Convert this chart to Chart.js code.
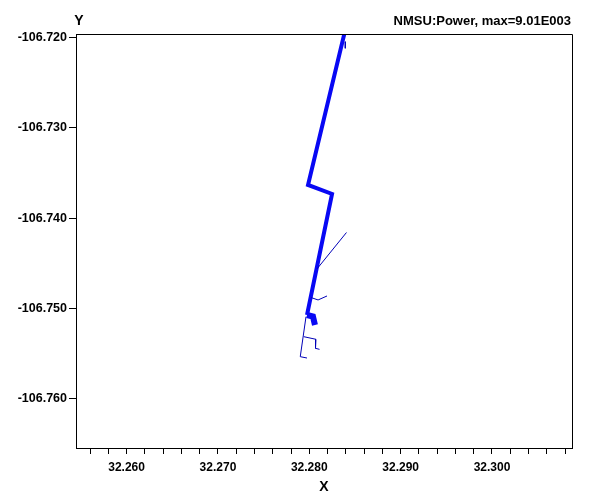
<!DOCTYPE html>
<html>
<head>
<meta charset="utf-8">
<script src="https://cdn.jsdelivr.net/npm/chart.js@4/dist/chart.umd.min.js"></script>
<style>
  html, body { margin: 0; padding: 0; background: #fff; }
  #wrap { width: 593px; height: 504px; }
</style>
</head>
<body>
<div id="wrap"><canvas id="powerChart" width="593" height="504"></canvas></div>
<script>
// assi
const xMin = 32.25446, xMax = 32.30876;
const yMin = -106.76542, yMax = -106.71964;
const xTickValues = [32.256, 32.258, 32.260, 32.262, 32.264, 32.266, 32.268, 32.270, 32.272, 32.274,
    32.276, 32.278, 32.280, 32.282, 32.284, 32.286, 32.288, 32.290, 32.292, 32.294,
    32.296, 32.298, 32.300, 32.302, 32.304, 32.306, 32.308];
const xTickLabels = ['32.260', '32.270', '32.280', '32.290', '32.300'];
const yTickValues = [-106.760, -106.750, -106.740, -106.730, -106.720];

// linea principale (potenza alta)
const mainX = [32.28383, 32.27986, 32.28249, 32.27975];
const mainY = [-106.71964, -106.73633, -106.73733, -106.75071];
// tratto finale spesso
const tailX = [32.27975, 32.28040, 32.28062];
const tailY = [-106.75071, -106.75088, -106.75182];
// rami sottili
const stubX = [32.28394, 32.28394];
const stubY = [-106.72049, -106.72122];
const branch1X = [32.28407, 32.28084];
const branch1Y = [-106.74159, -106.74562];
const branch2X = [32.28019, 32.28096, 32.28194];
const branch2Y = [-106.74878, -106.74905, -106.74861];
const branch3X = [32.27964, 32.27901, 32.27975];
const branch3Y = [-106.75090, -106.75532, -106.75547];
const branch4X = [32.27939, 32.28073, 32.28068, 32.28112];
const branch4Y = [-106.75311, -106.75340, -106.75440, -106.75451];

function pts(xs, ys) {
    return xs.map((x, i) => ({ x: x, y: ys[i] }));
}

function seg(xs, ys, width, color) {
    return {
        data: pts(xs, ys),
        borderColor: color,
        borderWidth: width,
        showLine: true,
        pointRadius: 0,
        borderJoinStyle: 'miter',
        borderCapStyle: 'butt',
        tension: 0,
        fill: false
    };
}

const thick = '#0808f4';
const thin = '#0000b8';
const fontFam = '"Liberation Sans", Arial, sans-serif';

const boxAndText = {
    id: 'boxAndText',
    afterDraw(chart) {
        const ctx = chart.ctx;
        const a = chart.chartArea;
        ctx.save();
        ctx.strokeStyle = '#000';
        ctx.lineWidth = 1;
        ctx.beginPath();
        ctx.moveTo(a.left, a.top + 0.5);
        ctx.lineTo(a.right + 0.5, a.top + 0.5);
        ctx.lineTo(a.right + 0.5, a.bottom);
        ctx.stroke();
        ctx.fillStyle = '#000';
        ctx.textBaseline = 'middle';
        ctx.font = 'bold 14px ' + fontFam;
        ctx.textAlign = 'center';
        ctx.fillText('Y', 79, 21);
        ctx.font = 'bold 13px ' + fontFam;
        ctx.textAlign = 'right';
        ctx.fillText('NMSU:Power, max=9.01E003', 571, 21);
        ctx.restore();
    }
};

new Chart(document.getElementById('powerChart').getContext('2d'), {
    type: 'scatter',
    data: {
        datasets: [
            seg(branch1X, branch1Y, 1, thin),
            seg(branch2X, branch2Y, 1, thin),
            seg(branch3X, branch3Y, 1, thin),
            seg(branch4X, branch4Y, 1, thin),
            seg(stubX, stubY, 1, thin),
            seg(mainX, mainY, 4, thick),
            seg(tailX, tailY, 6, thick)
        ]
    },
    options: {
        responsive: false,
        animation: false,
        layout: { padding: { top: 34, right: 21, left: 0, bottom: 0 } },
        plugins: { legend: { display: false }, tooltip: { enabled: false } },
        scales: {
            x: {
                type: 'linear',
                position: 'bottom',
                min: xMin,
                max: xMax,
                afterBuildTicks(scale) {
                    scale.ticks = xTickValues.map(v => ({ value: v }));
                },
                afterFit(scale) { scale.height = 56; },
                grid: { drawOnChartArea: false, drawTicks: true, tickLength: 6, tickColor: '#000', color: '#000' },
                border: { display: true, color: '#000', width: 1 },
                ticks: {
                    autoSkip: false,
                    maxRotation: 0,
                    padding: 6,
                    color: '#000',
                    font: { family: fontFam, size: 12, weight: 'bold' },
                    callback(v) {
                        const s = Number(v).toFixed(3);
                        return xTickLabels.includes(s) ? s : '';
                    }
                },
                title: {
                    display: true,
                    text: 'X',
                    color: '#000',
                    font: { family: fontFam, size: 14, weight: 'bold' },
                    padding: { top: 0, bottom: 8 }
                }
            },
            y: {
                type: 'linear',
                min: yMin,
                max: yMax,
                afterBuildTicks(scale) {
                    scale.ticks = yTickValues.map(v => ({ value: v }));
                },
                afterFit(scale) { scale.width = 76; },
                grid: { drawOnChartArea: false, drawTicks: true, tickLength: 7, tickColor: '#000', color: '#000' },
                border: { display: true, color: '#000', width: 1 },
                ticks: {
                    padding: 2,
                    color: '#000',
                    font: { family: fontFam, size: 12.5, weight: 'bold' },
                    callback(v) { return Number(v).toFixed(3); }
                }
            }
        }
    },
    plugins: [boxAndText]
});
</script>
</body>
</html>
